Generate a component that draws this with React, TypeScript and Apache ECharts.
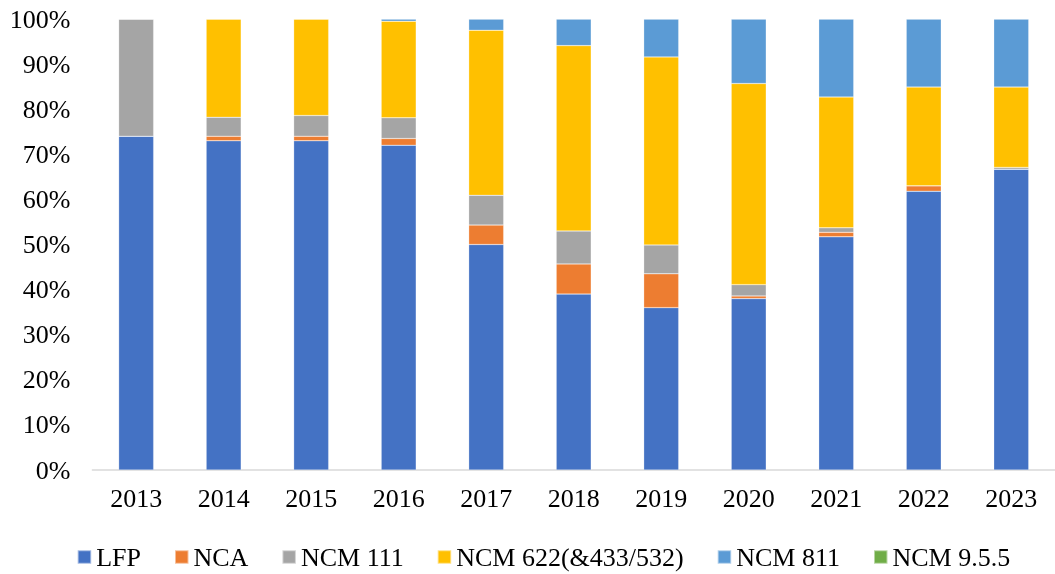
import React, { useEffect, useRef } from "react";
import * as echarts from "echarts";

const years = ["2013", "2014", "2015", "2016", "2017", "2018", "2019", "2020", "2021", "2022", "2023"];
const LFP = [74, 73, 73, 72, 50, 39, 36, 38, 51.7, 61.8, 66.7];
const NCA = [0, 1, 1, 1.5, 4.3, 6.7, 7.5, 0.6, 1.0, 1.2, 0];
const NCM111 = [26, 4.2, 4.6, 4.6, 6.6, 7.3, 6.4, 2.5, 1.0, 0, 0.4];
const NCM622 = [0, 21.8, 21.4, 21.4, 36.6, 41.1, 41.7, 44.6, 29.0, 21.9, 17.8];
const NCM811 = [0, 0, 0, 0.5, 2.5, 5.9, 8.4, 14.3, 17.3, 15.1, 15.1];
const NCM955 = [0, 0, 0, 0, 0, 0, 0, 0, 0, 0, 0];

const seriesDefs = [
  { name: "LFP", data: LFP, color: "#4472C4" },
  { name: "NCA", data: NCA, color: "#ED7D31" },
  { name: "NCM 111", data: NCM111, color: "#A5A5A5" },
  { name: "NCM 622(&433/532)", data: NCM622, color: "#FFC000" },
  { name: "NCM 811", data: NCM811, color: "#5B9BD5" },
  { name: "NCM 9.5.5", data: NCM955, color: "#70AD47" },
];

const FONT = '"Liberation Serif", "Times New Roman", serif';

export default function App() {
  const ref = useRef<HTMLDivElement>(null);
  useEffect(() => {
    if (!ref.current) return;
    const chart = echarts.init(ref.current, null, { renderer: "svg" });
    chart.setOption({
      animation: false,
      textStyle: { fontFamily: FONT },
      grid: { left: 92.4, top: 19, width: 971, bottom: 104, containLabel: false },
      legend: {
        left: 76.7,
        top: 544,
        padding: 0,
        itemWidth: 13.5,
        itemHeight: 13.5,
        itemGap: 33,
        icon: "rect",
        textStyle: { fontFamily: FONT, fontSize: 26, color: "#000" },
        data: seriesDefs.map((s) => s.name),
      },
      xAxis: {
        type: "category",
        data: years,
        axisLine: { lineStyle: { color: "#D9D9D9", width: 1.5 } },
        axisTick: { show: false },
        axisLabel: { fontFamily: FONT, fontSize: 26, color: "#000", margin: 15 },
      },
      yAxis: {
        type: "value",
        min: 0,
        max: 100,
        interval: 10,
        splitLine: { show: false },
        axisLine: { show: false },
        axisTick: { show: false },
        axisLabel: { fontFamily: FONT, fontSize: 26, color: "#000", margin: 22, formatter: "{value}%" },
      },
      series: seriesDefs.map((s) => ({
        name: s.name,
        type: "bar",
        stack: "total",
        barWidth: 35,
        data: s.data,
        itemStyle: { color: s.color, borderColor: "rgba(255,255,255,0.5)", borderWidth: 0.5 },
      })),
    });
    return () => chart.dispose();
  }, []);
  return <div ref={ref} style={{ position: "fixed", left: 0, top: 0, width: 1055, height: 574 }} />;
}
